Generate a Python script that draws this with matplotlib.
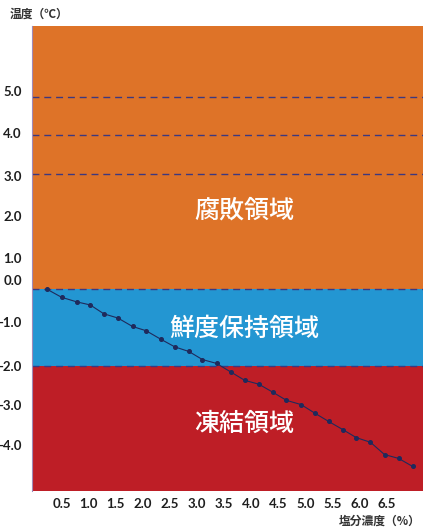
import matplotlib
matplotlib.use("Agg")
import matplotlib.pyplot as plt

# ---- data ----
salinity = [0.23, 0.50, 0.78, 1.03, 1.28, 1.54, 1.81, 2.06, 2.33, 2.59, 2.85, 3.10, 3.36,
            3.62, 3.88, 4.14, 4.40, 4.65, 4.92, 5.17, 5.43, 5.69, 5.94, 6.20, 6.46, 6.72, 6.98]
freezing_temp = [0.00, -0.21, -0.33, -0.41, -0.64, -0.75, -0.97, -1.08, -1.30, -1.50, -1.62,
                 -1.83, -1.93, -2.15, -2.37, -2.47, -2.68, -2.89, -3.00, -3.22, -3.44, -3.65,
                 -3.86, -3.98, -4.30, -4.40, -4.61]

zone_names = ["腐敗領域", "鮮度保持領域", "凍結領域"]
zone_bounds = [(0.0, 6.85), (-2.0, 0.0), (-5.24, -2.0)]
zone_label_y = [2.05, -1.03, -3.51]
dashed_levels = [5.0, 4.0, 3.0, 0.0, -2.0]

xtick_values = [0.5, 1.0, 1.5, 2.0, 2.5, 3.0, 3.5, 4.0, 4.5, 5.0, 5.5, 6.0, 6.5]
xtick_labels = ["0.5", "1.0", "1.5", "2.0", "2.5", "3.0", "3.5", "4.0", "4.5", "5.0", "5.5", "6.0", "6.5"]
ytick_values = [5.15, 4.05, 2.95, 1.9, 0.8, 0.25, -0.85, -2.0, -3.0, -4.05]
ytick_labels = ["5.0", "4.0", "3.0", "2.0", "1.0", "0.0", "-1.0", "-2.0", "-3.0", "-4.0"]

zone_colors = ["#DE7328", "#2396D2", "#BE1E26"]

cjk = ["Noto Sans CJK JP", "DejaVu Sans"]

fig = plt.figure(figsize=(4.23, 5.28), dpi=100)
ax = fig.add_axes([0.075, 0.0706, 0.925, 0.8807])
ax.set_xlim(-0.05, 7.17)
ax.set_ylim(-5.24, 6.85)

for (lo, hi), c in zip(zone_bounds, zone_colors):
    ax.axhspan(lo, hi, color=c, lw=0, zorder=0)

for lv in dashed_levels:
    ax.axhline(lv, color="#3C3880", lw=1.0, ls=(0, (5, 3.5)), zorder=1)

ax.plot(salinity, freezing_temp, color="#1F2A5C", lw=0.8, marker="o", ms=2.6,
        mfc="#1F2A5C", mec="#1F2A5C", zorder=3)

for name, y in zip(zone_names, zone_label_y):
    ax.text(3.87, y, name, color="white", fontsize=18, family=cjk, weight="medium",
            ha="center", va="center", zorder=4)

ax.set_xticks(xtick_values)
ax.set_xticklabels(xtick_labels)
ax.set_yticks(ytick_values)
ax.set_yticklabels(ytick_labels)
ax.tick_params(axis="both", length=0, labelsize=9.5, labelcolor="#1E1E1E")
ax.tick_params(axis="y", pad=7)
ax.tick_params(axis="x", pad=5)
for lab in ax.get_xticklabels() + ax.get_yticklabels():
    lab.set_fontfamily("Lato")
    lab.set_fontweight("bold")

for s in ["top", "right", "bottom"]:
    ax.spines[s].set_visible(False)
ax.spines["left"].set_color("#A08AB8")
ax.spines["left"].set_linewidth(0.8)

fig.text(10 / 423, 1 - 14 / 528, "温度（℃）", family=cjk, weight="bold", fontsize=8.5,
         color="#333333", ha="left", va="center")
fig.text(421 / 423, 1 - 521 / 528, "塩分濃度（%）", family=cjk, weight="bold", fontsize=8.5,
         color="#333333", ha="right", va="center")

fig.savefig("out.png", dpi=100)
